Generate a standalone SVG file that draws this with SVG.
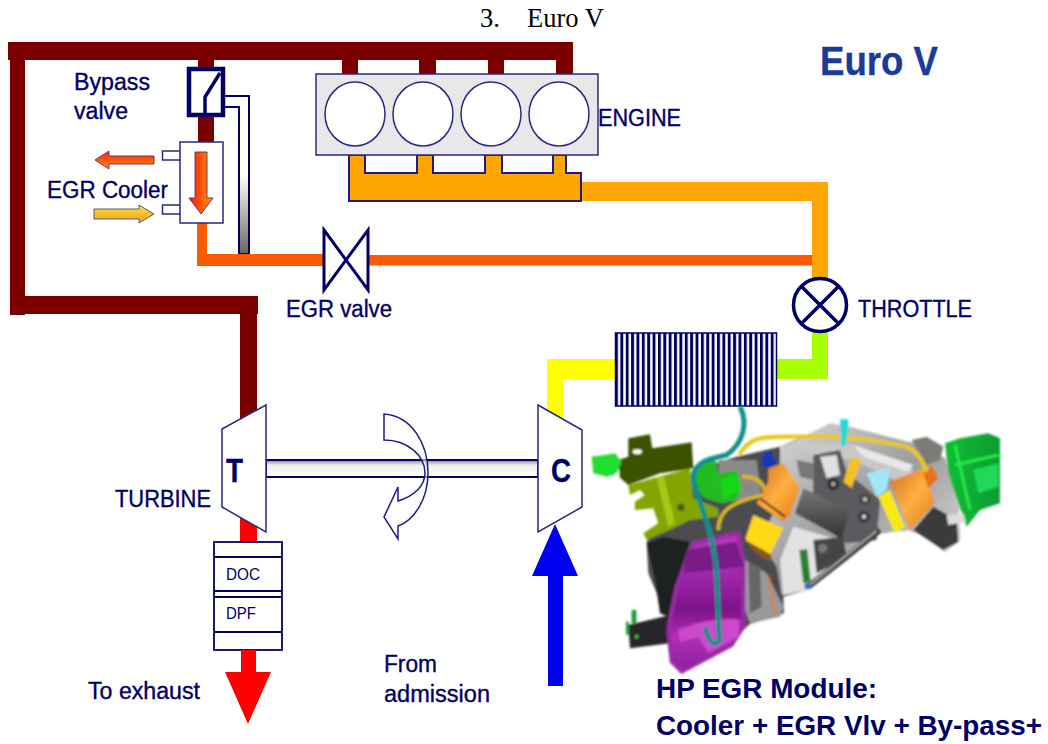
<svg xmlns="http://www.w3.org/2000/svg" width="1048" height="744" viewBox="0 0 1048 744">
<style>
text{font-family:"Liberation Sans",Arial,sans-serif;fill:#000066;stroke:#000066;stroke-width:.35}
.t{font-size:23px}
.b{font-weight:bold}
.ln{stroke:#000066;fill:none}
.o{stroke:#2a2a80;stroke-width:1.5}
.m{fill:#7a0000}
.serif{font-family:"Liberation Serif","Times New Roman",serif;fill:#000;stroke:none;font-size:26.500px}
</style>
<defs>
<filter id="soft" x="-5%" y="-5%" width="110%" height="110%"><feGaussianBlur stdDeviation="2.500"/></filter>
<pattern id="fins" x="615" y="333" width="5.37" height="10" patternUnits="userSpaceOnUse"><rect width="2.9" height="10" fill="#000066"/></pattern>
<linearGradient id="g1" x1="0" y1="0" x2="0" y2="1"><stop offset="0" stop-color="#fff"/><stop offset=".5" stop-color="#fff"/><stop offset="1" stop-color="#666"/></linearGradient>
<linearGradient id="shaft" x1="0" y1="0" x2="0" y2="1"><stop offset="0" stop-color="#888"/><stop offset=".3" stop-color="#eee"/><stop offset="1" stop-color="#fff"/></linearGradient>
<linearGradient id="hot" x1="0" y1="0" x2="1" y2="0"><stop offset="0" stop-color="#ff1000"/><stop offset="1" stop-color="#ff9a10"/></linearGradient>
<linearGradient id="hot2" x1="0" y1="0" x2="0" y2="1"><stop offset="0" stop-color="#ff2000"/><stop offset="1" stop-color="#ff9010"/></linearGradient>
<linearGradient id="cool" x1="0" y1="0" x2="0" y2="1"><stop offset="0" stop-color="#ffe040"/><stop offset="1" stop-color="#f0a020"/></linearGradient>
<linearGradient id="purple" x1="0" y1="0" x2="0" y2="1"><stop offset="0" stop-color="#b73cc0"/><stop offset=".3" stop-color="#a028ac"/><stop offset=".55" stop-color="#7c1486"/><stop offset=".75" stop-color="#b030b8"/><stop offset="1" stop-color="#8a1f98"/></linearGradient>
<linearGradient id="orange" x1="0" y1="0" x2="1" y2="1"><stop offset="0" stop-color="#d07020"/><stop offset=".5" stop-color="#ffb040"/><stop offset="1" stop-color="#e07818"/></linearGradient>
<linearGradient id="silver" x1="0" y1="0" x2="1" y2="1"><stop offset="0" stop-color="#dcdcdc"/><stop offset=".5" stop-color="#9c9c9c"/><stop offset="1" stop-color="#e8e8e8"/></linearGradient>
<linearGradient id="green" x1="0" y1="0" x2="1" y2="0"><stop offset="0" stop-color="#10c030"/><stop offset="1" stop-color="#0a9a30"/></linearGradient>
<linearGradient id="dgrey" x1="0" y1="0" x2="0" y2="1"><stop offset="0" stop-color="#777"/><stop offset="1" stop-color="#333"/></linearGradient>
</defs>

<rect width="1048" height="744" fill="#fff"/>
<text x="480" y="27" class="serif">3.</text>
<text x="527" y="27" class="serif">Euro V</text>
<text id="title" x="820" y="75" class="b" style="font-size:40px;fill:#1c3a9c;stroke:#1c3a9c" textLength="118" lengthAdjust="spacingAndGlyphs">Euro V</text>

<g id="connectors">
<path class="m" d="M8 42H573V74H556V60H504V74H488V60H436V74H419V60H358V74H342V60H214V67H198V60H25V296H258V314H257V420H240V314H25V315H10V60H8Z"/>
<rect class="m" x="198" y="114" width="16" height="28"/>
<path id="bypass-pipe" d="M224 96H249V254H239V107H224Z" fill="url(#g1)" stroke="#000066" stroke-width="2"/>
<rect x="197" y="223" width="10" height="35" fill="#ff5a00"/>
<rect x="197" y="254" width="128" height="12" fill="#ff5a00"/>
<rect x="369" y="255" width="443" height="10.500" fill="#ff5a00"/>
<path fill="#ffa500" d="M581 182H828V280H812V201H581Z"/>
<path fill="#a8ff00" d="M812 330H828V379H777V359H812Z"/>
<path fill="#ffff00" d="M547 359H616V379H563V420H547Z"/>
<rect x="240" y="515" width="17" height="30" fill="#ff0000"/>
</g>

<g id="bypass-valve">
<rect x="189" y="69" width="34" height="46" fill="#fff" stroke="#000066" stroke-width="4.500"/>
<path d="M220 73L205 97V113" fill="none" stroke="#000066" stroke-width="3.500"/>
<text class="t" x="74" y="90" textLength="76" lengthAdjust="spacingAndGlyphs">Bypass</text>
<text class="t" x="74" y="119" textLength="54" lengthAdjust="spacingAndGlyphs">valve</text>
</g>

<g id="egr-cooler">
<rect x="162.500" y="151" width="18" height="9" fill="#fff" class="o"/>
<rect x="162.500" y="205" width="18" height="9" fill="#fff" class="o"/>
<rect x="180" y="142" width="43" height="81" fill="#fff" class="o"/>
<path d="M195 152H207V198H213L201 214L189 198H195Z" fill="url(#hot)" stroke="#6a3a6a"/>
<path d="M95 160L109 151V156H154V164H109V169Z" fill="url(#hot2)" stroke="#6a3a6a"/>
<path d="M94 209H139V205L154 214L139 223V219H94Z" fill="url(#cool)" stroke="#5a5a6a"/>
<text class="t" x="47" y="198" textLength="121" lengthAdjust="spacingAndGlyphs">EGR Cooler</text>
</g>

<g id="engine">
<path d="M349 155H365V173H417V155H433V173H485V155H502V173H553V155H566V173H581V201H349Z" fill="#ffa500" stroke="#1c1c88" stroke-width="2"/>
<rect x="316" y="74" width="282" height="81" fill="#e8e8e8" class="o"/>
<ellipse cx="355" cy="114" rx="30" ry="32" fill="#fff" class="o"/>
<ellipse cx="423" cy="114" rx="30" ry="32" fill="#fff" class="o"/>
<ellipse cx="491" cy="114" rx="30" ry="32" fill="#fff" class="o"/>
<ellipse cx="559" cy="114" rx="30" ry="32" fill="#fff" class="o"/>
<text class="t" x="598" y="126" textLength="83" lengthAdjust="spacingAndGlyphs">ENGINE</text>
</g>

<g id="egr-valve">
<path d="M324 230L368 290V230L324 290Z" fill="#fff" stroke="#000066" stroke-width="3"/>
<text class="t" x="286" y="317" textLength="106" lengthAdjust="spacingAndGlyphs">EGR valve</text>
</g>

<g id="throttle">
<circle cx="820" cy="305" r="26.500" fill="#fff" stroke="#000066" stroke-width="3.500"/>
<path d="M801 286L839 324M839 286L801 324" class="ln" stroke-width="3.500"/>
<text class="t" x="858" y="317" textLength="114" lengthAdjust="spacingAndGlyphs">THROTTLE</text>
</g>

<g id="intercooler">
<rect x="615.500" y="333" width="161" height="73" fill="#fff"/>
<rect x="615.500" y="333" width="161" height="73" fill="url(#fins)" stroke="#000066" stroke-width="1.500"/>
</g>

<g id="shaft-group">
<rect x="266" y="460" width="272" height="17" fill="url(#shaft)" stroke="#000066" stroke-width="2"/>
<path d="M384 414C412 416 428 444 428 473C428 498 415 520 398 526V539L384 517L398 487V501C414 496 425 486 425 473C425 456 408 440 384 440Z" fill="#fff" fill-opacity=".55" stroke="#1c1c80" stroke-width="1.500"/>
</g>

<g id="turbine">
<path d="M266 405L222 429V507L266 532Z" fill="#fff" class="o"/>
<text class="b" x="226" y="482" style="font-size:33px" textLength="17" lengthAdjust="spacingAndGlyphs">T</text>
<text class="t" x="115" y="507" textLength="96" lengthAdjust="spacingAndGlyphs">TURBINE</text>
</g>

<g id="compressor">
<path d="M538 405L582 430V507L538 532Z" fill="#fff" class="o"/>
<text class="b" x="551" y="482" style="font-size:33px" textLength="20" lengthAdjust="spacingAndGlyphs">C</text>
</g>

<g id="aftertreatment">
<rect x="214" y="542" width="68" height="108" fill="#fff" stroke="#000066" stroke-width="1.800"/>
<path d="M214 557H282M214 591H282M214 597H282M214 632H282" class="ln" stroke-width="1.800"/>
<text x="226" y="580" style="font-size:16px;stroke:none" textLength="34" lengthAdjust="spacingAndGlyphs">DOC</text>
<text x="226" y="619" style="font-size:16px;stroke:none" textLength="30" lengthAdjust="spacingAndGlyphs">DPF</text>
</g>

<g id="exhaust-arrow">
<path d="M241 650H256V672H271L248 724L225 672H241Z" fill="#ff0000"/>
<text class="t" x="88" y="699" textLength="112" lengthAdjust="spacingAndGlyphs">To exhaust</text>
</g>

<g id="admission-arrow">
<path d="M548 686V576H532L555 524L578 576H563V686Z" fill="#0000f0"/>
<text class="t" x="384" y="672" textLength="53" lengthAdjust="spacingAndGlyphs">From</text>
<text class="t" x="384" y="702" textLength="106" lengthAdjust="spacingAndGlyphs">admission</text>
</g>

<g id="module-illustration" transform="translate(580 400) scale(.3333)" filter="url(#soft)">
<!-- base silhouette, closes the gaps between parts -->
<path d="M200 425L240 370L340 210L470 170L600 140L750 75L1000 130L1095 175L1135 320L1140 420L1095 455L1040 410L985 390L900 400L790 480L680 570L610 590L612 640L510 672L490 690L260 650L205 520Z" fill="#4c4c50"/>
<!-- left dark bracket and plug -->
<path d="M145 115L210 103L217 145L335 127L340 205L240 220L145 255L120 233L115 180L145 170Z" fill="#3a5200"/>
<ellipse cx="172" cy="155" rx="14" ry="7" fill="#fff"/>
<path d="M35 170L75 165L105 160L125 185L112 215L100 225L80 230L40 220Z" fill="#22dd33"/>
<!-- dark housing behind the cover -->
<path d="M200 430L250 410L330 425L285 560L265 650L240 640L225 540Z" fill="#1d2024"/>
<!-- central silver body -->
<path d="M600 140L640 125L750 70L810 80L1000 130L1095 175L1135 320L1140 420L1095 455L1040 410L985 390L900 400L790 480L680 570L605 585L590 500L540 420L600 300Z" fill="url(#silver)"/>
<path d="M640 130L810 130L1000 210L985 260L820 180L700 170Z" fill="#c8c8c8"/>
<path d="M820 135L1000 195L985 215L850 170Z" fill="#e8e8e8"/>
<path d="M700 165L780 150L800 215L900 300L890 420L800 430L700 360Z" fill="#5a5a5e"/>
<path d="M720 170L770 165L780 225L740 235Z" fill="#e0e0e0"/>
<path d="M650 180L700 190L700 240L660 230Z" fill="#777"/>
<path d="M815 170L845 180L815 265L790 245Z" fill="#f4c020"/>
<path d="M860 220L930 205L920 270L890 290Z" fill="#a0e8f8"/>
<path d="M670 265L810 330L785 415L645 340Z" fill="url(#dgrey)"/>
<circle cx="760" cy="252" r="18" fill="#2a2a2a"/><circle cx="760" cy="252" r="7" fill="#aaa"/>
<circle cx="855" cy="298" r="17" fill="#444"/><circle cx="855" cy="298" r="7" fill="#bbb"/>
<circle cx="852" cy="350" r="17" fill="#333"/><circle cx="852" cy="350" r="7" fill="#ccc"/>
<path d="M600 480L640 380L780 420L790 480L680 570L610 585Z" fill="#e2e2e2"/>
<path d="M700 420L790 410L800 470L710 520Z" fill="#444"/>
<circle cx="728" cy="445" r="14" fill="#777"/>
<path d="M685 560L800 470L900 390" stroke="#3a3a3a" stroke-width="18" fill="none"/>
<path d="M685 558L890 392" stroke="#aaa" stroke-width="6" fill="none"/>
<path d="M658 450L682 448L692 545L670 550Z" fill="#2a8030"/>
<circle cx="683" cy="558" r="10" fill="#3070c0"/>
<!-- olive bracket and green actuator -->
<path d="M145 255L330 205L340 295L415 325L415 350L330 360L280 385L200 420L190 400L235 370L220 325L165 330L165 305L195 285L180 270L150 285Z" fill="#84a400"/>
<path d="M230 235L250 225L285 370L265 380Z" fill="#a8c818"/>
<circle cx="303" cy="322" r="11" fill="#4a5a00"/>
<path d="M415 180L530 180L545 290L420 310Z" fill="#8a8a8a"/>
<path d="M335 215L405 175L415 220L470 210L485 265L470 300L425 310L375 295L340 255Z" fill="#22bb22"/>
<path d="M420 240L470 225L485 270L430 295Z" fill="#18d818"/>
<path d="M415 390C415 335 450 305 555 285C555 255 540 230 485 230" fill="none" stroke="#d8b818" stroke-width="11"/>
<path d="M548 165L572 150L590 190L565 210L545 195Z" fill="#1838b0"/>
<!-- left orange pipe and yellow cylinder -->
<path d="M565 205L610 190L660 265L630 345L610 365L530 310L565 245Z" fill="url(#orange)"/>
<path d="M540 295L615 350" stroke="#5a3010" stroke-width="6" fill="none"/>
<path d="M520 345L610 385L570 465L495 420Z" fill="#ffd818"/>
<path d="M495 405C500 440 540 470 570 485L575 465L495 420Z" fill="#8a5520"/>
<!-- right side -->
<path d="M1000 390L1060 320L1130 360L1135 425L1090 450Z" fill="#3a3a3c"/>
<path d="M930 245L1030 205L1065 310L990 390Z" fill="url(#orange)"/>
<path d="M1030 220L1055 195L1075 235L1045 265Z" fill="#e87018"/>
<path d="M895 290L930 270L975 380L945 400Z" fill="#f8e818"/>
<path d="M995 120L1040 110L1090 140L1080 180L1040 195Z" fill="#7c7c78"/>
<path d="M1095 130L1140 115L1225 100L1260 115V310L1200 330L1160 380L1135 310L1105 220Z" fill="url(#green)"/>
<path d="M1125 135L1170 330M1125 195L1255 165" stroke="#28e848" stroke-width="9" fill="none"/>
<path d="M1180 210L1255 190V260L1195 280Z" fill="#20d858"/>
<path d="M1100 345L1150 340L1158 365L1105 375Z" fill="#ddd"/>
<path d="M478 165C510 105 550 110 670 110C800 105 880 120 980 140C1020 160 1030 190 1040 215" fill="none" stroke="#e8c81c" stroke-width="13"/>
<path d="M780 58H805L805 90L795 140H785Z" fill="#20d8d8"/>
<!-- lower part -->
<path d="M145 675L270 645L270 730L150 745Z" fill="#26282a"/>
<rect x="155" y="630" width="14" height="40" fill="#1a9a30"/>
<rect x="138" y="665" width="8" height="40" fill="#1a9a30"/>
<circle cx="170" cy="710" r="6" fill="#22cc33"/>
<path d="M495 480L560 520L610 620L600 650L510 670L495 630Z" fill="#9a9a9a"/>
<path d="M505 490L540 500L545 620L510 640Z" fill="#666"/>
<path d="M565 530L585 645" stroke="#d88030" stroke-width="7" fill="none"/>
<path d="M340 430L475 400L490 490L490 680L455 735L305 815L275 785L265 690L290 560Z" fill="url(#purple)" stroke="#9a2aa6" stroke-width="12" stroke-linejoin="round"/>
<path d="M320 450L470 425L490 500L310 520Z" fill="#7a1a88"/>
<path d="M295 690C340 670 420 650 480 660L475 710L385 760L355 710L300 725Z" fill="#cc48cc"/>
<path d="M480 20C505 70 490 130 440 165C400 175 350 180 340 225C335 270 400 370 410 520L418 720C405 745 385 725 375 680" fill="none" stroke="#0a9088" stroke-width="15"/>
</g>

<g id="module-label">
<text x="656" y="698" class="b" style="font-size:27px;stroke:none" textLength="221" lengthAdjust="spacingAndGlyphs">HP EGR Module:</text>
<text x="656" y="735" class="b" style="font-size:27px;stroke:none" textLength="386" lengthAdjust="spacingAndGlyphs">Cooler + EGR Vlv + By-pass+</text>
</g>
</svg>
